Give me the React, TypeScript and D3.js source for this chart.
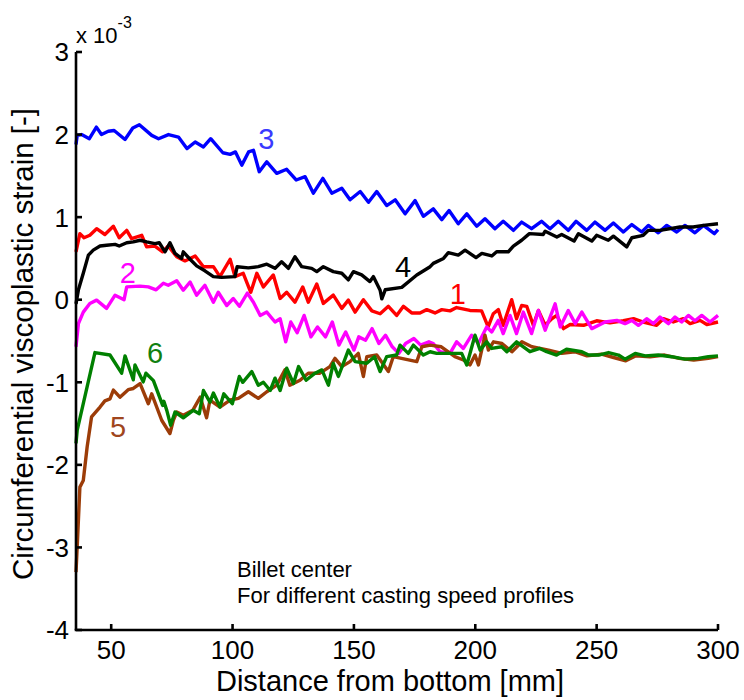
import React from "react";
import * as d3 from "d3";

// Values in units of 1e-3 (axis multiplier "x 10^-3")
const series1: [number, number][] = [[35.5,0.58],[37.1,0.80],[38.8,0.75],[41.2,0.78],[44,0.86],[47.4,0.79],[50.9,0.89],[53.3,0.75],[56.4,0.84],[58.4,0.74],[62.6,0.78],[64.6,0.64],[68,0.65],[71.2,0.58],[73.5,0.65],[77,0.52],[80.4,0.47],[84.6,0.53],[88,0.40],[92.1,0.40],[94.8,0.28],[99,0.49],[101,0.28],[104.4,0.32],[107.5,0.09],[110,0.32],[112.7,0.155],[116.8,0.30],[119.6,0.015],[122.3,0.09],[125.7,-0.03],[128.9,0.155],[131.2,-0.03],[134.7,0.19],[137.4,-0.045],[141.5,0.055],[145,-0.105],[147.7,-0.005],[150.5,-0.15],[153.9,0.0],[157.4,-0.135],[160.8,-0.17],[164.2,-0.08],[167.6,-0.19],[170.4,-0.08],[173.8,-0.16],[177.2,-0.16],[180,-0.12],[183.4,-0.16],[186.2,-0.12],[189.6,-0.135],[192.3,-0.095],[197.8,-0.13],[202.6,-0.135],[205.3,-0.33],[207.4,-0.17],[209.5,-0.12],[211.5,-0.31],[215,0.0],[217,-0.23],[219.1,-0.07],[221.2,-0.08],[223.9,-0.31],[226,-0.13],[228.8,-0.31],[231.5,-0.23],[233.6,-0.19],[236.3,-0.35],[239.1,-0.30],[244.6,-0.31],[250,-0.255],[255.5,-0.28],[261,-0.255],[265.2,-0.23],[269.2,-0.27],[274.7,-0.31],[277.5,-0.23],[281.6,-0.27],[285.7,-0.23],[288.5,-0.29],[292.6,-0.25],[295.4,-0.30],[300,-0.27]];

const series2: [number, number][] = [[35.5,-0.57],[36.5,-0.29],[38.5,-0.15],[41.2,-0.045],[44,-0.005],[48.1,-0.105],[51.6,0.055],[55.3,0.0],[56.4,0.155],[61.9,0.165],[65.3,0.155],[68.5,0.12],[71.5,0.20],[73.5,0.175],[77,0.23],[79.7,0.115],[82.5,0.215],[85.2,0.055],[88.6,0.175],[92.1,-0.03],[94.1,0.09],[97.6,-0.07],[100.3,0.015],[102.8,-0.08],[106.1,0.08],[108.6,-0.03],[111.4,-0.19],[114.1,-0.15],[117.5,-0.27],[119.6,-0.23],[121.9,-0.51],[124,-0.27],[126.6,-0.40],[129.5,-0.19],[132.3,-0.45],[135,-0.33],[138.3,-0.45],[141.1,-0.27],[143.8,-0.55],[146.6,-0.39],[150,-0.61],[152,-0.45],[154.8,-0.49],[157.5,-0.35],[160.3,-0.53],[163,-0.43],[165.8,-0.57],[168.5,-0.65],[171.3,-0.53],[174.7,-0.47],[177.5,-0.55],[180.9,-0.51],[182.7,-0.53],[185.5,-0.63],[189.6,-0.65],[192.3,-0.51],[195.1,-0.59],[198.5,-0.43],[201.3,-0.53],[204.7,-0.33],[206.8,-0.39],[209.5,-0.25],[211.5,-0.41],[214.3,-0.19],[217,-0.41],[219.8,-0.15],[223.2,-0.41],[226,-0.13],[228.8,-0.37],[232.9,-0.05],[235,-0.33],[238.3,-0.13],[241.2,-0.29],[243.9,-0.15],[248,-0.35],[253.5,-0.27],[258.3,-0.25],[261.7,-0.29],[264.5,-0.25],[267.2,-0.31],[270.6,-0.23],[273.4,-0.29],[276.1,-0.21],[279.6,-0.29],[282.3,-0.21],[285,-0.27],[287.8,-0.19],[290.5,-0.255],[293.3,-0.19],[296.7,-0.27],[300,-0.19]];

const series3: [number, number][] = [[35.5,1.88],[36,1.99],[37.8,2.00],[41,1.95],[43.9,2.09],[46,2.00],[48.8,2.04],[51.2,2.05],[55.7,1.94],[58.9,2.08],[61.6,2.12],[66.7,1.99],[69.5,1.95],[73.6,2.00],[77.7,1.97],[81.2,1.83],[84.6,1.91],[88,1.85],[91,1.95],[96,1.78],[99,1.76],[101.2,1.79],[103.8,1.63],[106.6,1.79],[108.6,1.81],[111,1.55],[114.1,1.67],[118.2,1.53],[122.3,1.58],[126.2,1.45],[129.9,1.49],[133.3,1.29],[137.2,1.47],[140.9,1.29],[145,1.35],[148.4,1.21],[152.6,1.31],[156,1.18],[159.4,1.31],[163.5,1.14],[167,1.21],[171.1,1.04],[175.2,1.20],[178.6,1.01],[182.7,1.10],[186.2,0.97],[189.2,1.08],[193,0.92],[196.5,1.04],[200.6,0.89],[204,0.98],[208.1,0.86],[211.5,0.95],[215.7,0.84],[219.1,0.94],[223.2,0.86],[227.3,0.95],[230.8,0.86],[234.2,0.95],[238.3,0.84],[241.5,0.95],[245.9,0.84],[249.3,0.94],[253.5,0.84],[256.9,0.93],[261,0.82],[264.5,0.91],[268.6,0.82],[271.3,0.90],[275.4,0.81],[278.9,0.90],[283,0.82],[286.4,0.90],[290.5,0.81],[294,0.90],[298.5,0.80],[300,0.85]];

const series4: [number, number][] = [[35.5,-0.05],[36.5,0.12],[38.5,0.32],[40.6,0.54],[42.6,0.60],[45.4,0.65],[48.1,0.66],[51.6,0.67],[53.3,0.65],[56.4,0.69],[59.1,0.70],[61.9,0.72],[64.6,0.70],[68,0.68],[69.8,0.69],[72.2,0.58],[74.2,0.69],[76.3,0.56],[79,0.50],[79.7,0.58],[82.5,0.49],[85.2,0.41],[88.6,0.35],[92.1,0.28],[95.5,0.27],[101,0.28],[101.9,0.40],[106.5,0.385],[110.6,0.40],[114.1,0.43],[117.5,0.38],[120.2,0.46],[123,0.38],[125.7,0.52],[128.5,0.40],[132.6,0.38],[134.7,0.34],[137.4,0.40],[141.5,0.34],[145,0.32],[147.7,0.24],[149.8,0.34],[153.2,0.30],[156.6,0.22],[158,0.28],[160.8,0.115],[161.5,0.01],[162.9,0.12],[169.7,0.15],[175.9,0.30],[181.4,0.40],[182.7,0.44],[186.9,0.50],[188.9,0.57],[193,0.54],[195.8,0.60],[200.3,0.51],[202.7,0.56],[206.8,0.53],[208.8,0.58],[213.6,0.58],[215.7,0.65],[219.1,0.72],[222.3,0.80],[228,0.79],[228.8,0.83],[233.6,0.76],[235.6,0.79],[240.7,0.71],[242.5,0.80],[248,0.71],[250,0.78],[254.8,0.72],[256.9,0.77],[262.4,0.64],[264.5,0.75],[269.2,0.78],[271.3,0.84],[276.1,0.84],[284.3,0.88],[289.8,0.88],[294,0.90],[300,0.92]];

const series5: [number, number][] = [[35.5,-3.30],[36,-2.99],[37.1,-2.27],[38.5,-2.19],[40.1,-1.78],[41.9,-1.42],[45.4,-1.30],[47.4,-1.225],[49.5,-1.20],[50.9,-1.095],[53.6,-1.18],[57,-1.09],[59.1,-1.075],[61.9,-1.015],[65.3,-1.26],[66.7,-1.14],[70.8,-1.46],[74.2,-1.62],[75.6,-1.46],[77,-1.36],[79.7,-1.40],[83.6,-1.34],[86.7,-1.18],[89.3,-1.43],[90.7,-1.215],[94.8,-1.30],[99,-1.215],[102.4,-1.195],[106.5,-1.115],[110.6,-1.195],[114.1,-1.115],[118.2,-1.035],[121.6,-0.85],[123.6,-1.035],[127.8,-0.975],[131.2,-0.89],[136,-0.89],[140.1,-0.81],[142.2,-0.71],[145,-0.81],[148.4,-0.75],[151.8,-0.65],[153.9,-0.93],[155.3,-0.69],[159.4,-0.67],[164.2,-0.87],[166.2,-0.69],[175.9,-0.75],[178,-0.57],[181.4,-0.55],[186,-0.57],[191.6,-0.69],[195.1,-0.73],[197.8,-0.79],[199.9,-0.67],[201.3,-0.79],[204,-0.43],[205.4,-0.61],[207.5,-0.51],[211,-0.53],[215.1,-0.63],[219.2,-0.51],[223.3,-0.57],[230.2,-0.61],[235.6,-0.65],[241,-0.63],[246,-0.68],[252,-0.66],[257,-0.70],[262,-0.74],[266,-0.68],[272,-0.69],[278,-0.67],[284,-0.71],[290,-0.73],[296,-0.71],[300,-0.69]];

const series6: [number, number][] = [[35.5,-1.74],[36,-1.58],[43.3,-0.64],[49.5,-0.67],[54.3,-0.89],[55.7,-0.68],[59.1,-0.97],[59.8,-0.79],[63.2,-0.995],[64.3,-0.89],[67.4,-0.98],[71.2,-1.28],[71.7,-1.23],[72.9,-1.34],[74.5,-1.52],[76.3,-1.36],[79.7,-1.43],[83.8,-1.34],[86.3,-1.38],[88,-1.10],[90.7,-1.24],[92.1,-1.13],[94.8,-1.30],[96.4,-1.14],[99.9,-1.26],[102.8,-0.93],[104.2,-1.00],[107.9,-0.87],[110.6,-1.035],[112.7,-1.00],[115.5,-1.10],[117.5,-0.95],[119.6,-1.10],[122.3,-0.83],[125.1,-1.015],[127.2,-0.81],[130.3,-0.975],[134,-0.89],[136.8,-0.85],[139.5,-1.035],[141.5,-0.77],[143.6,-0.93],[147.7,-0.61],[150.5,-0.75],[155.3,-0.77],[158.5,-0.69],[160.8,-0.87],[163.5,-0.69],[167.6,-0.67],[169,-0.55],[172.4,-0.65],[174.5,-0.55],[178.6,-0.67],[181.4,-0.63],[184.1,-0.65],[194.4,-0.65],[196.5,-0.79],[199.9,-0.43],[202,-0.61],[204.7,-0.51],[206.8,-0.59],[210.9,-0.57],[213,-0.63],[217,-0.51],[222.5,-0.63],[226.6,-0.59],[229.4,-0.63],[233.5,-0.67],[237.6,-0.60],[243.9,-0.63],[246.7,-0.67],[250.8,-0.67],[254.9,-0.64],[259,-0.67],[261.7,-0.72],[265.9,-0.65],[270,-0.68],[275.4,-0.67],[280.9,-0.69],[286.4,-0.72],[291.9,-0.71],[296,-0.69],[300,-0.68]];

const seriesList = [series1, series2, series3, series4, series5, series6];
const seriesNames = ["1", "2", "3", "4", "5", "6"];
const lineColors = ["#ff0000", "#ff00ff", "#0000ff", "#000000", "#9c3c08", "#008000"];
const labelColors = ["#ff0000", "#ff00ff", "#3a3aff", "#000000", "#a0461e", "#108010"];
// label anchor points in data units [x, y]
const labelPos: [number, number][] = [[192.8, -0.05], [56.8, 0.20], [113.9, 1.83], [170.3, 0.275], [52.8, -1.66], [68.1, -0.77]];

const xTicks = [50, 100, 150, 200, 250, 300];
const yTicks = [-4, -3, -2, -1, 0, 1, 2, 3];
const xDomain: [number, number] = [35.5, 300];
const yDomain: [number, number] = [-4, 3];
const xLabel = "Distance from bottom [mm]";
const yLabel = "Circumferential viscoplastic strain [-]";
const note1 = "Billet center";
const note2 = "For different casting speed profiles";

const FONT = "'Liberation Sans', Arial, Helvetica, sans-serif";

export default function App() {
  const W = 744, H = 700;
  const left = 76, right = 718, top = 52, bottom = 630;
  const x = d3.scaleLinear().domain(xDomain).range([left, right]);
  const y = d3.scaleLinear().domain(yDomain).range([bottom, top]);
  const line = d3.line<[number, number]>().x(d => x(d[0])).y(d => y(d[1]));

  return (
    <svg width={W} height={H} style={{ position: "absolute", left: 0, top: 0, display: "block", background: "#fff" }} fontFamily={FONT}>
      <rect x={0} y={0} width={W} height={H} fill="#fff" />
      {seriesList.map((s, i) => (
        <path key={i} d={line(s) || ""} fill="none" stroke={lineColors[i]} strokeWidth={3.4} strokeLinejoin="round" strokeLinecap="butt" />
      ))}
      {/* axes */}
      <line x1={left} x2={left} y1={top} y2={bottom} stroke="#000" strokeWidth={2.6} />
      <line x1={left - 1.3} x2={right} y1={bottom} y2={bottom} stroke="#000" strokeWidth={2.6} />
      {yTicks.map(t => (
        <g key={"y" + t}>
          <line x1={left} x2={left + 6} y1={y(t)} y2={y(t)} stroke="#000" strokeWidth={2.6} />
          <text x={69} y={y(t)} dy="0.36em" textAnchor="end" fontSize={26} fill="#000">{t}</text>
        </g>
      ))}
      {xTicks.map(t => (
        <g key={"x" + t}>
          <line x1={x(t)} x2={x(t)} y1={bottom} y2={bottom - 6} stroke="#000" strokeWidth={2.6} />
          <text x={x(t)} y={658.5} textAnchor="middle" fontSize={26} fill="#000">{t}</text>
        </g>
      ))}
      <text x={76} y={43} fontSize={22} fill="#000">
        x 10<tspan fontSize={16} dy={-15}>-3</tspan>
      </text>
      <text x={390} y={691} textAnchor="middle" fontSize={29} fill="#000">{xLabel}</text>
      <text transform={`translate(33,344) rotate(-90)`} textAnchor="middle" fontSize={29.5} fill="#000">{yLabel}</text>
      <text x={237} y={577} fontSize={22} fill="#000">{note1}</text>
      <text x={237} y={603} fontSize={22} fill="#000">{note2}</text>
      {seriesNames.map((n, i) => (
        <text key={"l" + n} x={x(labelPos[i][0])} y={y(labelPos[i][1])} textAnchor="middle" fontSize={29} fill={labelColors[i]}>{n}</text>
      ))}
    </svg>
  );
}
